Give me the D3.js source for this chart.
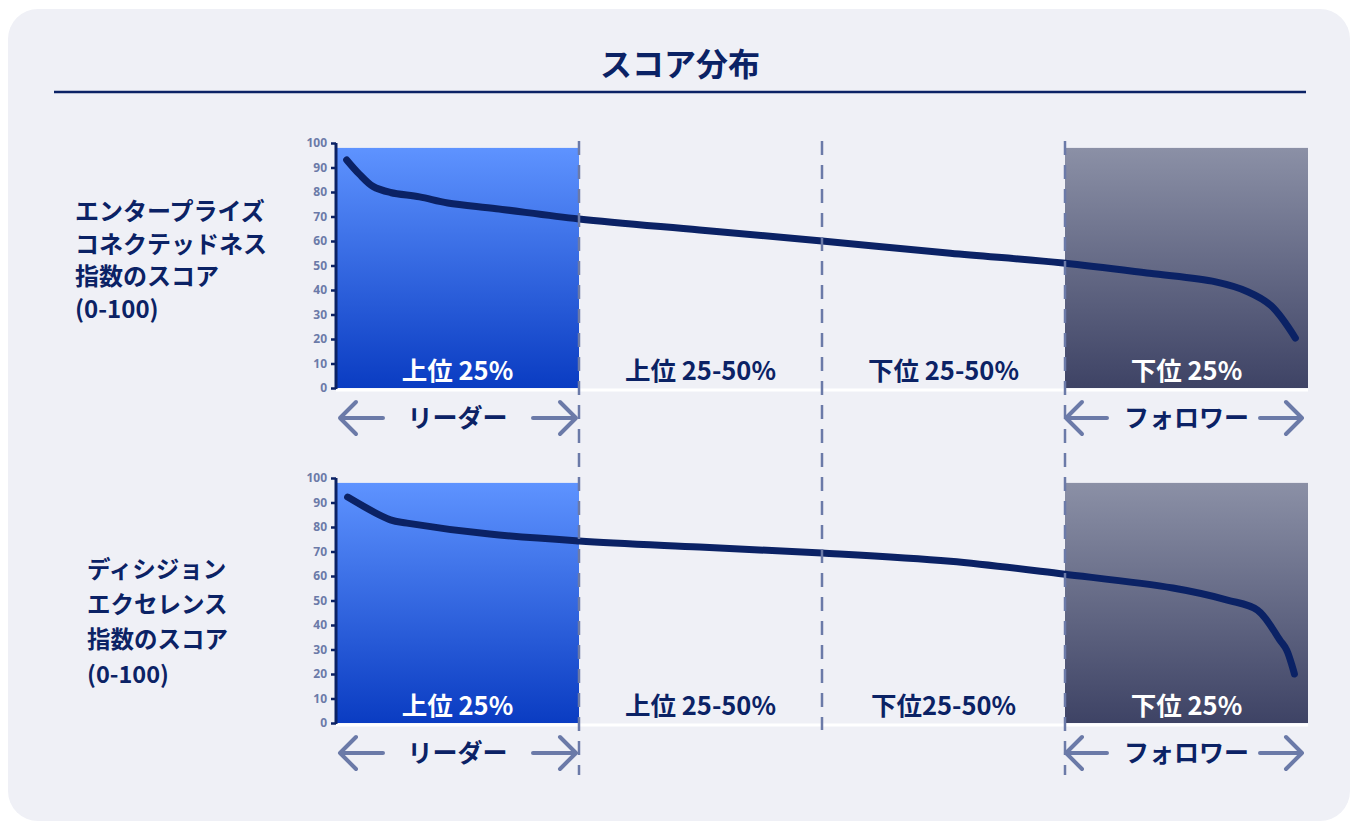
<!DOCTYPE html>
<html><head><meta charset="utf-8">
<script src="https://cdn.jsdelivr.net/npm/d3@7"></script>
<style>
html,body{margin:0;padding:0;background:#ffffff;}
svg{display:block;font-family:"Noto Sans CJK JP","Noto Sans",sans-serif;}
</style></head>
<body>
<svg id="c" width="1353" height="823"></svg>
<script>
const title = "スコア分布";
const yTicks = [0,10,20,30,40,50,60,70,80,90,100];
const quartileBounds = [0,25,50,75,100];
const chart1Label = ["エンタープライズ","コネクテッドネス","指数のスコア","(0-100)"];
const chart2Label = ["ディシジョン","エクセレンス","指数のスコア","(0-100)"];
const chart1Bands = ["上位 25%","上位 25-50%","下位 25-50%","下位 25%"];
const chart2Bands = ["上位 25%","上位 25-50%","下位25-50%","下位 25%"];
const leaderText = "リーダー";
const followerText = "フォロワー";
// percentile -> score
const chart1Pct = [1.1,2.4,3.8,5.6,8.6,11.5,16.5,25,37.4,50,63.2,74.8,83.7,90.5,93.8,96.2,98.7];
const chart1Val = [93.1,87.3,82.3,79.8,78.0,75.5,73.2,69,64.5,60,55,51,46.8,43.3,39.3,33.6,20.4];
const chart2Pct = [1.2,5.6,7.3,15.8,25,37.4,50,63.2,74.8,86.1,91.7,94.8,97.1,97.8,98.6];
const chart2Val = [92.2,82.9,81.6,77.1,74.3,71.8,69.4,66,60.8,55.1,50.2,46.1,33.9,29.8,20];

const navy = "#0b2265", slate = "#6b7aa8";
const svg = d3.select("#c");
const defs = svg.append("defs");
const gb = defs.append("linearGradient").attr("id","gBlue").attr("x1",0).attr("y1",0).attr("x2",0).attr("y2",1);
gb.append("stop").attr("offset","0%").attr("stop-color","#5e93ff");
gb.append("stop").attr("offset","100%").attr("stop-color","#0a3cc2");
const gg = defs.append("linearGradient").attr("id","gGray").attr("x1",0).attr("y1",0).attr("x2",0).attr("y2",1);
gg.append("stop").attr("offset","0%").attr("stop-color","#8b90a6");
gg.append("stop").attr("offset","100%").attr("stop-color","#3e4365");

svg.append("rect").attr("x",8).attr("y",9).attr("width",1342).attr("height",812).attr("rx",30).attr("fill","#eff0f6");

svg.append("text").attr("x",680).attr("y",76).attr("text-anchor","middle").attr("font-size",32).attr("font-weight",700).attr("fill",navy).text(title);
svg.append("line").attr("x1",54).attr("x2",1306).attr("y1",92).attr("y2",92).attr("stroke",navy).attr("stroke-width",2.5);

const x = d3.scaleLinear().domain([0,100]).range([336,1308]);

function drawChart(top, bottom, pcts, vals, bands, labelLines, labelX, labelY0, labelDy, labelSize, arrowY) {
  const y = d3.scaleLinear().domain([0,100]).range([bottom, top]);
  const g = svg.append("g");
  g.append("rect").attr("x",x(0)).attr("y",y(98)).attr("width",x(25)-x(0)).attr("height",y(0)-y(98)).attr("fill","url(#gBlue)");
  g.append("rect").attr("x",x(75)).attr("y",y(98)).attr("width",x(100)-x(75)).attr("height",y(0)-y(98)).attr("fill","url(#gGray)");
  g.append("line").attr("x1",x(0)).attr("x2",x(100)).attr("y1",y(0)+2).attr("y2",y(0)+2).attr("stroke","#ffffff").attr("stroke-width",3);
  // band labels
  bands.forEach((t,i)=>{
    const cx = (x(quartileBounds[i])+x(quartileBounds[i+1]))/2;
    g.append("text").attr("x",cx).attr("y",y(0)-8).attr("text-anchor","middle").attr("font-size",25.5).attr("font-weight",700)
      .attr("fill",(i===0||i===3)?"#ffffff":navy).text(t);
  });
  // axis
  const ax = g.append("g").attr("transform",`translate(${x(0)},0)`).call(d3.axisLeft(y).tickValues(yTicks).tickSize(5).tickPadding(4));
  ax.select(".domain").attr("stroke",navy).attr("stroke-width",3).attr("d",`M0,${y(100)}V${y(0)+1}`);
  ax.selectAll(".tick line").attr("stroke",navy).attr("stroke-width",2.5);
  ax.selectAll(".tick text").attr("fill",slate).attr("font-size",12).attr("font-weight",700).attr("font-family","'Noto Sans',sans-serif");
  // line
  const line = d3.line().x((d,i)=>x(pcts[i])).y(d=>y(d)).curve(d3.curveCatmullRom.alpha(0.5));
  g.append("path").attr("d",line(vals)).attr("fill","none").attr("stroke",navy).attr("stroke-width",7).attr("stroke-linecap","round").attr("stroke-linejoin","round");
  // left label
  labelLines.forEach((t,i)=>{
    g.append("text").attr("x",labelX).attr("y",labelY0+i*labelDy).attr("font-size",labelSize).attr("font-weight",700).attr("fill",navy).text(t);
  });
  // arrows
  function arrow(x1,x2){
    const dir = x2>x1?1:-1;
    g.append("path").attr("d",`M${x1},${arrowY}H${x2}M${x2-dir*16},${arrowY-16}L${x2},${arrowY}L${x2-dir*16},${arrowY+16}`)
      .attr("fill","none").attr("stroke",slate).attr("stroke-width",4).attr("stroke-linecap","round").attr("stroke-linejoin","round");
  }
  arrow(383,340); arrow(533,576);
  arrow(1107,1066); arrow(1260,1302);
  g.append("text").attr("x",(x(0)+x(25))/2).attr("y",arrowY+9).attr("text-anchor","middle").attr("font-size",25).attr("font-weight",700).attr("fill",navy).text(leaderText);
  g.append("text").attr("x",(x(75)+x(100))/2).attr("y",arrowY+9).attr("text-anchor","middle").attr("font-size",25).attr("font-weight",700).attr("fill",navy).text(followerText);
}

drawChart(143, 388, chart1Pct, chart1Val, chart1Bands, chart1Label, 75, 220, 32.5, 24, 418);
drawChart(478, 723, chart2Pct, chart2Val, chart2Bands, chart2Label, 87, 578, 35, 23.5, 753);

// dashed dividers
[[25,141,775],[50,141,730],[75,141,775]].forEach(([p,y1,y2])=>{
  svg.append("line").attr("x1",x(p)).attr("x2",x(p)).attr("y1",y1).attr("y2",y2)
    .attr("stroke",slate).attr("stroke-width",2.5).attr("stroke-dasharray","14,10");
});
</script>
</body></html>
